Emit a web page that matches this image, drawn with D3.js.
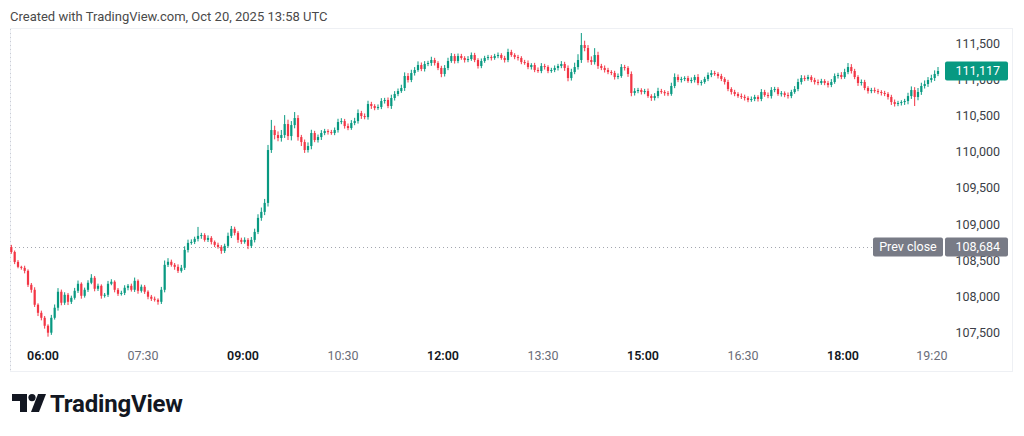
<!DOCTYPE html>
<html><head><meta charset="utf-8">
<script src="https://cdn.jsdelivr.net/npm/d3@7"></script>
<style>
html,body{margin:0;padding:0;background:#fff;}
svg{display:block;font-family:Roboto,"Noto Sans",sans-serif;}
</style></head>
<body>
<svg id="c" width="1024" height="436"></svg>
<script>
// ---- data (3-minute candles starting 05:30) ----
const startMinute = 330; // 05:30
const stepMinutes = 3;
const firstOpen = 108684;
const closes = [
108616,108478,108410,108396,108355,108162,108093,107886,107775,107706,107596,107500,107706,107845,108066,107914,108024,107927,107982,108079,
108176,108010,108093,108190,108259,108107,108148,108010,108024,108176,108204,108093,108038,108050,108121,108148,108093,108217,108079,108135,
108066,107997,107969,107955,107927,108093,108438,108480,108438,108410,108355,108397,108644,108741,108755,108797,108838,108850,108783,108810,
108755,108714,108686,108631,108700,108838,108935,108880,108783,108755,108783,108700,108783,108893,109087,109170,109294,110025,110301,110232,
110191,110232,110384,110218,110370,110467,110204,110135,110025,110080,110260,110163,110204,110260,110287,110273,110260,110301,110412,110425,
110356,110329,110398,110425,110536,110495,110480,110661,110633,110605,110620,110702,110716,110633,110744,110799,110840,110882,111048,110993,
111089,111131,111200,111145,111214,111228,111269,111228,111159,111076,111159,111255,111324,111255,111324,111297,111269,111283,111338,111269,
111186,111255,111297,111310,111297,111324,111338,111297,111269,111380,111338,111310,111297,111241,111228,111172,111200,111131,111117,111186,
111172,111117,111131,111159,111186,111214,111159,111020,111103,111172,111269,111476,111435,111269,111241,111338,111186,111159,111131,111103,
111090,111034,111048,111172,111159,111076,110813,110840,110854,110827,110840,110771,110744,110771,110840,110827,110810,110800,110910,111034,
110993,111007,111020,110979,110993,111034,110951,110965,111007,111062,111089,111076,111048,111007,110965,110868,110827,110799,110771,110760,
110744,110716,110730,110758,110730,110827,110785,110771,110854,110868,110799,110810,110785,110771,110827,110868,110965,111020,111007,111034,
110993,110965,110951,110979,110951,110924,110965,111048,111062,111034,111103,111172,111117,111034,110951,110965,110882,110840,110854,110840,
110827,110813,110800,110758,110688,110661,110675,110688,110702,110771,110854,110758,110827,110910,110937,110993,111020,111076,111117
];
const upperWicks = [
30,20,25,15,30,20,25,35,20,30,25,20,40,45,50,30,35,25,30,40,
45,20,30,35,50,25,30,20,25,40,35,20,25,30,35,25,30,45,20,30,
25,20,25,30,20,40,60,50,30,25,35,40,50,45,35,30,124,30,25,35,
25,20,30,25,30,45,40,30,25,30,35,25,40,45,50,60,55,70,140,60,
50,70,124,60,55,83,40,30,35,50,45,30,35,40,30,25,30,35,45,40,
30,35,40,45,50,30,35,45,30,25,35,40,30,35,45,40,35,45,50,40,
45,40,50,35,40,30,45,30,25,30,40,45,40,30,35,30,25,40,35,30,
25,35,30,30,25,30,35,25,30,45,30,25,30,25,30,35,25,30,35,40,
30,25,30,35,30,40,30,35,45,60,80,166,60,40,50,95,45,30,35,30,
25,30,35,40,30,25,35,40,30,25,30,35,25,40,45,30,25,30,45,50,
35,30,25,30,35,30,40,25,30,35,40,30,25,30,25,30,25,30,25,35,
30,25,35,30,25,40,30,35,40,30,25,30,25,35,30,40,45,40,35,30,
25,30,35,30,25,30,40,35,30,40,45,55,40,30,25,35,30,25,30,35,
30,25,30,25,30,35,30,25,30,45,50,40,55,45,50,40,45,50,55
];
const lowerWicks = [
25,30,20,25,35,30,40,30,45,35,40,55,30,25,40,35,30,45,30,25,
30,40,25,30,20,35,30,40,25,30,20,35,30,25,30,35,25,30,40,25,
30,35,30,25,40,30,35,30,25,40,30,25,30,35,25,30,35,40,25,30,
35,30,25,40,30,25,30,35,40,30,25,45,30,35,30,40,45,50,40,60,
45,50,40,55,60,45,50,55,40,35,45,30,35,40,30,35,25,30,35,30,
35,30,25,30,35,40,30,35,40,30,25,30,35,30,40,35,30,25,40,35,
30,35,25,30,35,30,40,35,30,45,35,30,25,35,30,25,35,30,25,30,
35,30,25,30,35,25,30,25,35,30,25,30,35,30,25,30,35,30,25,30,
35,30,25,30,35,30,40,45,35,30,35,40,45,35,40,35,40,30,35,30,
30,35,30,25,35,40,45,35,30,35,30,25,40,35,30,25,35,30,25,30,
30,35,30,25,30,35,30,35,25,30,30,25,35,30,35,30,35,30,25,30,
35,30,25,30,35,30,25,30,35,30,25,35,30,35,30,25,30,35,30,25,
30,35,30,25,30,35,30,25,35,30,25,30,35,30,40,35,30,35,30,25,
30,35,30,35,40,35,30,35,40,45,40,125,45,40,35,40,35,40,30
];
const priceTicks = [107500,108000,108500,109000,109500,110000,110500,111000,111500];
const timeTickLabels = ["06:00","07:30","09:00","10:30","12:00","13:30","15:00","16:30","18:00","19:20"];
const timeTickMinutes = [360,450,540,630,720,810,900,990,1080,1160];
const timeTickBold = [true,false,true,false,true,false,true,false,true,false];
const prevClose = 108684;
const lastPrice = 111117;
const headerText = "Created with TradingView.com, Oct 20, 2025 13:58 UTC";

// ---- build candles ----
const candles = closes.map((c,i)=>{
  const o = i===0 ? firstOpen : closes[i-1];
  return {t: startMinute + i*stepMinutes + stepMinutes/2, o, c,
          h: Math.max(o,c)+upperWicks[i], l: Math.min(o,c)-lowerWicks[i]};
});

const svg = d3.select("#c");
const UP="#089981", DOWN="#F23645";

const x = d3.scaleLinear().domain([360,1080]).range([43,843]);
const y = d3.scaleLinear().domain([107500,111500]).range([332.7,43.3]);

// header
svg.append("text").attr("x",10).attr("y",21).attr("font-size",13).attr("fill","#4a4a4a").text(headerText);

// frame
svg.append("rect").attr("x",10.5).attr("y",28.5).attr("width",1002).attr("height",343)
  .attr("fill","none").attr("stroke","#eef0f4");
// session line
svg.append("line").attr("x1",10.5).attr("x2",10.5).attr("y1",29).attr("y2",371)
  .attr("stroke","#c9ccd4").attr("stroke-dasharray","1,3");

// prev close dotted line
svg.append("line").attr("x1",11).attr("x2",873).attr("y1",Math.round(y(prevClose))+0.5).attr("y2",Math.round(y(prevClose))+0.5)
  .attr("stroke","#a3a6af").attr("stroke-dasharray","1,3");

// candles
const g = svg.append("g");
const bw = 2.2;
g.selectAll("line.w").data(candles).join("line")
  .attr("x1",d=>x(d.t)).attr("x2",d=>x(d.t))
  .attr("y1",d=>y(d.h)).attr("y2",d=>y(d.l))
  .attr("stroke",d=>d.c>=d.o?UP:DOWN).attr("stroke-width",1);
g.selectAll("rect.b").data(candles).join("rect")
  .attr("x",d=>x(d.t)-bw/2).attr("width",bw)
  .attr("y",d=>y(Math.max(d.o,d.c)))
  .attr("height",d=>Math.max(1,Math.abs(y(d.o)-y(d.c))))
  .attr("fill",d=>d.c>=d.o?UP:DOWN);

// price axis
const fmt = d3.format(",");
svg.append("g").selectAll("text").data(priceTicks).join("text")
  .attr("x",1000).attr("y",d=>y(d)).attr("dy","0.35em").attr("text-anchor","end")
  .attr("font-size",12.5).attr("fill","#3b3e47").text(d=>fmt(d));

// time axis
svg.append("g").selectAll("text").data(timeTickLabels).join("text")
  .attr("x",(d,i)=>x(timeTickMinutes[i])).attr("y",360).attr("text-anchor","middle")
  .attr("font-size",12.5).attr("font-weight",(d,i)=>timeTickBold[i]?600:400)
  .attr("fill",(d,i)=>timeTickBold[i]?"#131722":"#6a6d78").text(d=>d);

// prev close label
const pcY = y(prevClose);
svg.append("rect").attr("x",873).attr("y",pcY-9.5).attr("width",70).attr("height",19).attr("rx",2).attr("fill","#787b86");
svg.append("text").attr("x",908).attr("y",pcY).attr("dy","0.35em").attr("text-anchor","middle").attr("font-size",12.5).attr("fill","#fff").text("Prev close");
svg.append("rect").attr("x",945).attr("y",pcY-9.5).attr("width",63).attr("height",19).attr("rx",2).attr("fill","#787b86");
svg.append("text").attr("x",1000).attr("y",pcY).attr("dy","0.35em").attr("text-anchor","end").attr("font-size",12.5).attr("fill","#fff").text(fmt(prevClose));

// last price label
const lpY = y(lastPrice);
svg.append("rect").attr("x",945).attr("y",lpY-9.5).attr("width",63).attr("height",19).attr("rx",2).attr("fill",UP);
svg.append("text").attr("x",1000).attr("y",lpY).attr("dy","0.35em").attr("text-anchor","end").attr("font-size",12.5).attr("fill","#fff").text(fmt(lastPrice));

// TradingView logo
const logo = svg.append("g").attr("transform","translate(12,394)").attr("fill","#131722");
logo.append("path").attr("d","M0,0 H15 V18 H8 V7 H0 Z");
logo.append("circle").attr("cx",20).attr("cy",3.6).attr("r",3.6);
logo.append("path").attr("d","M26,0 H34 L27,18 H19 Z");
svg.append("text").attr("x",50).attr("y",412).attr("font-size",24).attr("font-weight",700)
  .attr("fill","#131722").attr("letter-spacing","-0.2").text("TradingView");
</script>
</body></html>
